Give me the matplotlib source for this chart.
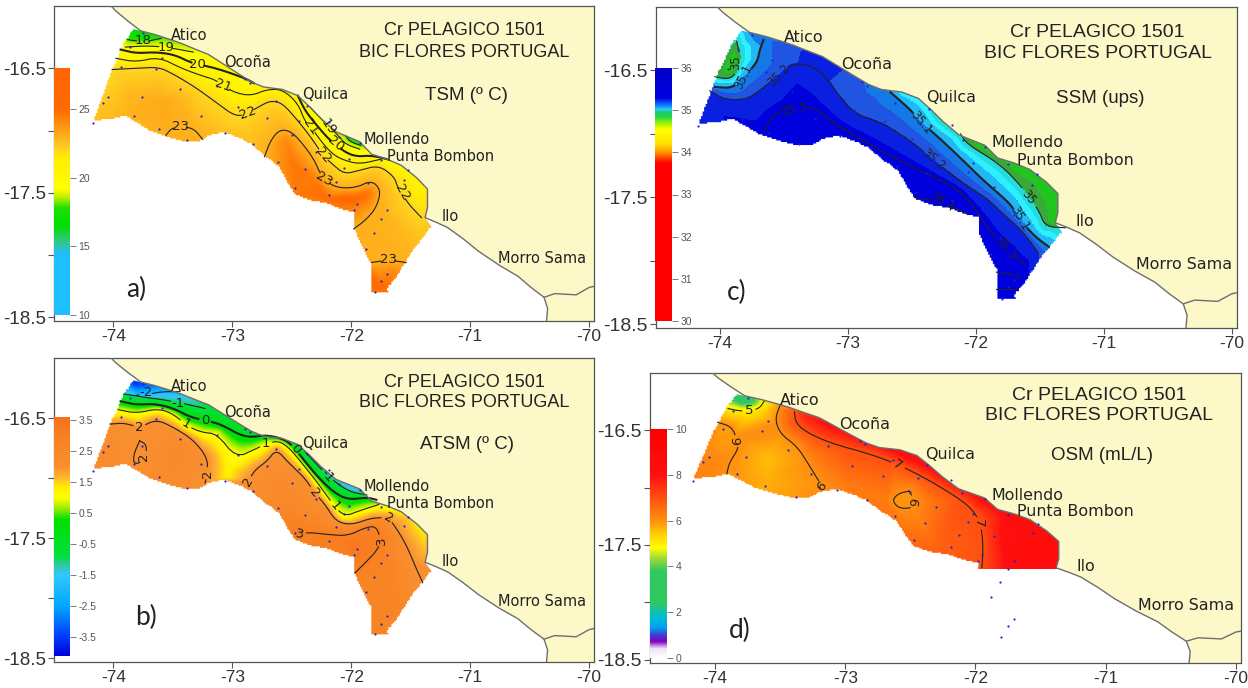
import numpy as np
import matplotlib
matplotlib.use("Agg")
import matplotlib.pyplot as plt
import matplotlib.tri as mtri
from matplotlib.colors import LinearSegmentedColormap, ListedColormap, BoundaryNorm, Normalize
from matplotlib.patches import Polygon

# coast, north to south
coast = [(-74.03, -15.99), (-73.98, -16.04), (-73.88, -16.12), (-73.77, -16.20), (-73.65, -16.23),
         (-73.52, -16.27), (-73.43, -16.30), (-73.33, -16.34), (-73.20, -16.39), (-73.07, -16.47),
         (-72.94, -16.55), (-72.84, -16.61), (-72.74, -16.65), (-72.58, -16.67), (-72.45, -16.72),
         (-72.35, -16.81), (-72.26, -16.90), (-72.13, -17.01), (-72.03, -17.05), (-71.93, -17.09),
         (-71.83, -17.19), (-71.70, -17.23), (-71.58, -17.28), (-71.45, -17.38), (-71.36, -17.47),
         (-71.36, -17.62), (-71.38, -17.70), (-71.28, -17.74), (-71.19, -17.78), (-71.06, -17.87),
         (-70.93, -17.97), (-70.76, -18.08), (-70.60, -18.17), (-70.49, -18.26), (-70.38, -18.34),
         (-70.35, -18.43), (-70.36, -18.54)]
border = [(-70.38, -18.34), (-70.29, -18.31), (-70.11, -18.32), (-70.00, -18.26), (-69.95, -18.25)]

# offshore limit of the survey, north to south
offshore = [(-73.83, -16.19), (-73.91, -16.30), (-73.96, -16.41), (-74.01, -16.51), (-74.04, -16.59),
            (-74.09, -16.73), (-74.16, -16.92), (-73.98, -16.90), (-73.91, -16.88), (-73.82, -16.93),
            (-73.72, -16.99), (-73.59, -17.04), (-73.49, -17.07), (-73.39, -17.09), (-73.28, -17.09),
            (-73.20, -17.04), (-73.08, -17.01), (-72.97, -17.05), (-72.84, -17.11), (-72.74, -17.20),
            (-72.61, -17.29), (-72.55, -17.40), (-72.48, -17.51), (-72.35, -17.56), (-72.19, -17.59),
            (-72.09, -17.63), (-71.98, -17.66)]
offshore_south = [(-71.98, -17.78), (-71.93, -17.89), (-71.88, -17.99), (-71.83, -18.08), (-71.83, -18.30),
                  (-71.69, -18.30), (-71.70, -18.26), (-71.61, -18.16), (-71.53, -18.02), (-71.43, -17.89),
                  (-71.33, -17.77)]
offshore_cut = [(-71.98, -17.71), (-71.37, -17.71)]

stations = [(-73.75, -16.22), (-73.86, -16.33), (-73.59, -16.42), (-73.94, -16.49), (-73.64, -16.51),
            (-73.44, -16.67), (-74.05, -16.73), (-74.09, -16.78), (-73.76, -16.73), (-73.83, -16.88),
            (-74.17, -16.94), (-73.62, -16.99), (-73.38, -17.08), (-73.26, -16.88), (-73.06, -17.02),
            (-72.83, -17.11), (-72.71, -16.90), (-72.95, -16.81), (-73.13, -16.64), (-72.85, -16.62),
            (-72.89, -16.59), (-72.63, -16.76), (-72.37, -16.80), (-72.44, -16.92), (-72.50, -17.04),
            (-72.62, -17.25), (-72.39, -17.31), (-72.30, -17.17), (-72.10, -17.05), (-72.19, -16.93),
            (-71.93, -17.10), (-72.02, -17.23), (-72.06, -17.30), (-72.13, -17.41), (-72.19, -17.52),
            (-72.47, -17.46), (-71.75, -17.24), (-71.86, -17.42), (-71.95, -17.59), (-71.98, -17.64),
            (-71.52, -17.32), (-71.56, -17.40), (-71.70, -17.64), (-71.75, -17.71), (-71.81, -17.82),
            (-71.88, -17.95), (-71.70, -18.15), (-71.75, -18.21), (-71.80, -18.30)]

places = [("Atico", -73.52, -16.24), ("Ocoña", -73.07, -16.45), ("Quilca", -72.41, -16.71),
          ("Mollendo", -71.90, -17.07), ("Punta Bombon", -71.70, -17.21), ("Ilo", -71.24, -17.69),
          ("Morro Sama", -70.77, -18.03)]

# TSM
tsm_iso = [
    (18, [(-73.88, -16.27), (-73.75, -16.29), (-73.60, -16.26)]),
    (19, [(-73.90, -16.33), (-73.72, -16.32), (-73.56, -16.33), (-73.33, -16.37)]),
    (20, [(-73.94, -16.35), (-73.81, -16.38), (-73.65, -16.37), (-73.49, -16.39), (-73.36, -16.45),
          (-73.29, -16.47), (-73.18, -16.49), (-73.04, -16.53), (-72.87, -16.59), (-72.82, -16.62)]),
    (19, [(-72.35, -16.81), (-72.26, -16.90), (-72.19, -16.97), (-72.11, -17.04), (-72.05, -17.11), (-71.93, -17.15)]),
    (18, [(-72.05, -17.04), (-72.01, -17.09), (-71.92, -17.12)]),
    (20, [(-72.45, -16.72), (-72.39, -16.84), (-72.29, -16.96), (-72.19, -17.07), (-72.13, -17.11),
          (-72.06, -17.17), (-71.96, -17.21), (-71.83, -17.20), (-71.70, -17.23)]),
    (21, [(-73.98, -16.42), (-73.81, -16.45), (-73.62, -16.41), (-73.43, -16.50), (-73.26, -16.56),
          (-73.15, -16.59), (-73.08, -16.64), (-72.97, -16.70), (-72.84, -16.72), (-72.71, -16.67),
          (-72.58, -16.67), (-72.45, -16.78), (-72.39, -16.93), (-72.34, -16.97), (-72.26, -17.08),
          (-72.16, -17.19), (-72.06, -17.24), (-71.93, -17.27), (-71.75, -17.23)]),
    (22, [(-74.01, -16.51), (-73.81, -16.50), (-73.62, -16.49), (-73.49, -16.55), (-73.30, -16.66),
          (-73.13, -16.78), (-72.97, -16.89), (-72.87, -16.86), (-72.78, -16.81), (-72.68, -16.76),
          (-72.58, -16.78), (-72.45, -16.92), (-72.32, -17.08), (-72.24, -17.20), (-72.16, -17.27),
          (-72.06, -17.35), (-71.93, -17.32), (-71.77, -17.28), (-71.64, -17.37), (-71.61, -17.46),
          (-71.57, -17.50), (-71.53, -17.58), (-71.41, -17.70)]),
    (23, [(-73.56, -17.04), (-73.51, -16.98), (-73.44, -16.97), (-73.33, -16.98), (-73.25, -17.07)]),
    (23, [(-72.73, -17.21), (-72.68, -17.08), (-72.60, -16.99), (-72.50, -17.01), (-72.39, -17.13),
          (-72.31, -17.24), (-72.27, -17.33), (-72.23, -17.39), (-72.13, -17.46), (-71.96, -17.46),
          (-71.83, -17.40), (-71.75, -17.48), (-71.79, -17.62), (-71.88, -17.72), (-71.98, -17.79)]),
    (23, [(-71.83, -18.06), (-71.69, -18.04), (-71.54, -18.06)]),
]
tsm_extra = [(-73.83, -16.19, 16.5), (-73.75, -16.22, 16.6), (-73.65, -16.24, 17.3), (-73.83, -16.24, 16.9),
             (-71.98, -17.08, 17.0), (-73.10, -16.43, 19.8),
             (-72.84, -16.60, 20.0), (-72.60, -16.67, 20.5), (-72.40, -16.78, 19.5), (-72.20, -16.95, 18.9),
             (-71.70, -17.22, 20.0), (-71.40, -17.45, 21.0), (-71.35, -17.75, 22.5), (-74.16, -16.92, 22.6),
             (-73.95, -16.88, 22.8), (-73.60, -16.76, 23.1), (-73.60, -16.85, 23.2), (-73.45, -16.75, 22.9),
             (-73.85, -16.70, 22.8), (-72.50, -17.25, 24.6), (-72.30, -17.40, 24.5), (-72.55, -17.10, 24.2),
             (-72.20, -17.55, 25.0), (-72.00, -17.55, 25.3), (-71.88, -17.52, 25.0), (-72.45, -17.50, 24.6),
             (-71.90, -17.90, 23.0), (-71.70, -17.70, 22.9), (-71.55, -17.85, 22.8), (-71.60, -17.45, 21.8),
             (-71.42, -17.50, 21.2), (-71.40, -17.80, 22.4), (-71.75, -18.25, 25.0), (-71.65, -18.15, 24.2)]
tsm_far = [22, 20, 23, 22.5]
tsm_labels = [("18", -73.75, -16.28, 0), ("19", -73.56, -16.33, 0), ("20", -73.29, -16.47, 0),
              ("21", -73.08, -16.64, -20), ("22", -72.87, -16.86, 20), ("23", -73.44, -16.97, 0),
              ("19", -72.19, -16.97, -55), ("21", -72.34, -16.97, -55), ("20", -72.13, -17.11, -40),
              ("22", -72.24, -17.20, -50), ("23", -72.23, -17.39, -30), ("22", -71.57, -17.50, -60),
              ("23", -71.69, -18.04, 0)]
tsm_stops = [(10, "#1fbfff"), (14.4, "#1fbfff"), (15.4, "#30c880"), (16.5, "#00e000"), (17.8, "#20e000"),
             (18.6, "#c0f000"), (19.2, "#ffff00"), (21.4, "#ffee00"), (22, "#ffd820"), (23, "#ffb01c"),
             (25, "#ff6a00"), (28, "#ff6600")]

# ATSM
atsm_iso = [
    (-2, [(-73.81, -16.31), (-73.70, -16.30), (-73.59, -16.28), (-73.44, -16.28)]),
    (-1, [(-73.91, -16.30), (-73.72, -16.33), (-73.56, -16.35), (-73.36, -16.39), (-73.23, -16.42)]),
    (0, [(-73.94, -16.36), (-73.81, -16.39), (-73.65, -16.38), (-73.49, -16.42), (-73.36, -16.49),
         (-73.23, -16.52), (-73.10, -16.55), (-72.94, -16.64), (-72.84, -16.66), (-72.71, -16.64),
         (-72.55, -16.68), (-72.47, -16.76), (-72.39, -16.86), (-72.29, -16.98), (-72.16, -17.11),
         (-72.03, -17.18), (-71.87, -17.16), (-71.79, -17.18)]),
    (-1, [(-72.39, -16.78), (-72.20, -16.98), (-72.03, -17.11), (-71.87, -17.14)]),
    (1, [(-73.96, -16.43), (-73.81, -16.46), (-73.62, -16.42), (-73.49, -16.47), (-73.39, -16.56),
         (-73.26, -16.62), (-73.13, -16.63), (-72.97, -16.83), (-72.81, -16.76), (-72.71, -16.71),
         (-72.61, -16.69), (-72.52, -16.75), (-72.42, -16.87), (-72.29, -17.03), (-72.16, -17.21),
         (-72.06, -17.32), (-71.93, -17.27), (-71.77, -17.22)]),
    (2, [(-74.03, -16.55), (-73.91, -16.54), (-73.78, -16.58), (-73.64, -16.51), (-73.49, -16.58),
         (-73.33, -16.68), (-73.21, -16.83), (-73.21, -16.96), (-73.23, -17.04)]),
    (2, [(-72.87, -17.03), (-72.81, -16.93), (-72.71, -16.86), (-72.63, -16.76), (-72.53, -16.87),
         (-72.39, -17.00), (-72.31, -17.12), (-72.22, -17.22), (-72.13, -17.36), (-72.00, -17.39),
         (-71.83, -17.33), (-71.69, -17.33), (-71.64, -17.39), (-71.54, -17.55), (-71.46, -17.74),
         (-71.40, -17.87)]),
    (2, [(-73.78, -16.69), (-73.83, -16.80), (-73.83, -16.89), (-73.73, -16.85), (-73.72, -16.72), (-73.78, -16.69)]),
    (3, [(-72.43, -17.47), (-72.37, -17.45), (-72.19, -17.47), (-72.03, -17.48), (-71.88, -17.41),
         (-71.79, -17.40), (-71.75, -17.52), (-71.79, -17.61), (-71.87, -17.69), (-71.97, -17.79)]),
]
atsm_extra = [(-73.82, -16.20, -3.9), (-73.75, -16.21, -3.4), (-73.60, -16.25, -2.4), (-73.40, -16.30, -1.6),
              (-73.20, -16.39, -0.8), (-72.90, -16.55, -0.5), (-72.60, -16.67, -0.3), (-72.35, -16.80, -1.3),
              (-72.20, -16.95, -1.6), (-72.00, -17.07, -1.7), (-71.85, -17.15, -1.2), (-71.75, -17.22, 0.9),
              (-71.60, -17.27, 1.3), (-73.05, -17.00, 1.3), (-73.03, -16.90, 1.2), (-71.42, -17.40, 1.3),
              (-71.50, -17.30, 1.4), (-71.38, -17.60, 1.6), (-71.35, -17.75, 2.0), (-71.90, -17.90, 2.7),
              (-71.75, -18.25, 2.7), (-71.60, -18.10, 2.6), (-71.70, -17.70, 2.7), (-72.00, -17.55, 3.3),
              (-72.50, -17.30, 2.6), (-72.60, -17.10, 2.4), (-73.50, -16.80, 2.4), (-74.10, -16.80, 2.3),
              (-73.50, -17.00, 2.3), (-74.16, -16.92, 2.2)]
atsm_far = [1, 0, 2.5, 2.5]
atsm_labels = [("-2", -73.73, -16.29, 0), ("-1", -73.46, -16.38, 0), ("0", -73.23, -16.52, 0),
               ("1", -73.39, -16.55, -30), ("2", -73.78, -16.58, 0), ("2", -73.75, -16.82, 90),
               ("2", -73.21, -16.96, 90), ("1", -72.72, -16.71, 0), ("0", -72.47, -16.76, -50),
               ("-1", -72.20, -16.98, -50), ("2", -72.31, -17.12, -50), ("1", -72.14, -17.23, -50),
               ("2", -72.87, -17.03, 60), ("2", -71.69, -17.33, -30), ("3", -72.43, -17.47, -10),
               ("3", -71.75, -17.52, 90)]
atsm_stops = [(-4.1, "#0000e0"), (-3.3, "#0050ff"), (-2.5, "#00a8ff"), (-1.5, "#30c8ff"), (-1.15, "#30c8a0"),
              (-0.9, "#00e040"), (0.3, "#00e000"), (0.7, "#aaee00"), (1.0, "#ffff00"), (1.35, "#ffee00"),
              (1.7, "#ffb030"), (2.0, "#f99030"), (3.0, "#f98020"), (3.6, "#f9701c")]

# SSM
ssm_iso = [
    (35, [(-74.04, -16.55), (-73.93, -16.57), (-73.87, -16.52), (-73.84, -16.40), (-73.87, -16.27)]),
    (35.1, [(-74.04, -16.63), (-73.90, -16.64), (-73.82, -16.55), (-73.71, -16.44), (-73.69, -16.34), (-73.66, -16.26)]),
    (35.2, [(-74.08, -16.66), (-73.96, -16.73), (-73.80, -16.73), (-73.69, -16.66), (-73.57, -16.56),
            (-73.44, -16.45), (-73.31, -16.45), (-73.18, -16.54), (-73.08, -16.69), (-72.95, -16.84),
            (-72.72, -16.92), (-72.49, -17.07), (-72.33, -17.21), (-72.10, -17.39), (-71.91, -17.51),
            (-71.79, -17.63), (-71.64, -17.76), (-71.51, -17.94)]),
    (35.3, [(-73.66, -16.99), (-73.60, -16.87), (-73.53, -16.82), (-73.29, -16.77), (-73.11, -16.92),
            (-72.92, -17.03), (-72.66, -17.18), (-72.33, -17.34), (-72.13, -17.44), (-72.00, -17.60),
            (-71.84, -17.84), (-71.61, -18.04)]),
    (35.4, [(-72.48, -17.50), (-72.26, -17.54), (-72.07, -17.63)]),
    (35.32, [(-71.84, -18.09), (-71.68, -18.11), (-71.66, -18.15)]),
    (35.34, [(-71.84, -18.22), (-71.68, -18.22)]),
    (35.1, [(-72.67, -16.67), (-72.51, -16.81), (-72.43, -16.91), (-72.31, -17.01), (-72.13, -17.18),
            (-71.94, -17.37), (-71.73, -17.55), (-71.66, -17.67), (-71.55, -17.80), (-71.43, -17.89)]),
    (35, [(-72.12, -17.00), (-72.07, -17.08), (-71.81, -17.24), (-71.64, -17.42), (-71.59, -17.50),
          (-71.51, -17.60), (-71.46, -17.73), (-71.30, -17.74)]),
]
ssm_extra = [(-73.93, -16.50, 34.9), (-73.90, -16.40, 34.9), (-73.83, -16.19, 35.05), (-73.75, -16.21, 35.12),
             (-73.60, -16.26, 35.15), (-73.45, -16.30, 35.16), (-73.30, -16.36, 35.23), (-73.10, -16.42, 35.23),
             (-72.95, -16.55, 35.17), (-72.80, -16.63, 35.13), (-72.60, -16.68, 35.05), (-72.40, -16.76, 35.03),
             (-72.27, -16.90, 35.0), (-72.10, -17.00, 35.0), (-71.95, -17.10, 34.9), (-71.70, -17.23, 34.9),
             (-71.45, -17.38, 34.9), (-71.37, -17.60, 34.9), (-71.38, -17.70, 34.9), (-71.33, -17.77, 35.0),
             (-74.16, -16.92, 35.25), (-74.00, -16.85, 35.27), (-73.70, -16.95, 35.29), (-73.40, -17.05, 35.33),
             (-73.40, -16.60, 35.27), (-72.50, -17.45, 35.4), (-72.10, -17.70, 35.35), (-71.80, -18.25, 35.32),
             (-71.60, -18.10, 35.28), (-71.45, -17.95, 35.15)]
ssm_far = [35.2, 35, 35.3, 35.2]
ssm_labels = [("35", -73.88, -16.44, 90), ("35.1", -73.82, -16.55, 65), ("35.2", -73.54, -16.54, 45),
              ("35.3", -73.42, -16.81, 15), ("35.1", -72.43, -16.91, -50), ("35.2", -72.33, -17.20, -40),
              ("35.4", -72.26, -17.54, -30), ("35.3", -71.77, -17.90, -50), ("35.1", -71.66, -17.67, -60),
              ("35", -71.59, -17.50, -50)]
ssm_stops = [(30, "#ff0000"), (33.75, "#ff0000"), (34.0, "#ff9000"), (34.2, "#ffe000"), (34.55, "#ffff00"),
             (34.7, "#a0f000"), (34.85, "#20d850"), (34.97, "#20c870"), (35.02, "#30d0f0"), (35.12, "#1080ff"),
             (35.3, "#0000e0"), (36, "#0000c8")]
ssm_levels = [30, 34.95, 35.0, 35.03, 35.06, 35.1, 35.15, 35.2, 35.27, 36]
ssm_bands = ["#22c41e", "#3aa83a", "#24dcdc", "#2cf0ff", "#22b8f5", "#1478e6", "#1f55e0", "#0a20e0", "#0000dc"]

# OSM
osm_iso = [
    (5, [(-73.90, -16.31), (-73.82, -16.33), (-73.74, -16.33), (-73.66, -16.31), (-73.62, -16.24)]),
    (6, [(-73.98, -16.43), (-73.87, -16.47), (-73.83, -16.59), (-73.82, -16.66), (-73.89, -16.78), (-73.91, -16.88)]),
    (6, [(-73.50, -16.28), (-73.54, -16.40), (-73.50, -16.53), (-73.37, -16.64), (-73.28, -16.80),
         (-73.21, -16.93), (-73.18, -16.99)]),
    (6, [(-72.51, -17.03), (-72.59, -17.05), (-72.64, -17.11), (-72.59, -17.18), (-72.49, -17.18), (-72.46, -17.12),
         (-72.51, -17.03)]),
    (7, [(-73.39, -16.34), (-73.38, -16.44), (-73.28, -16.53), (-73.09, -16.62), (-72.83, -16.70), (-72.61, -16.79),
         (-72.38, -16.92), (-72.16, -17.07), (-72.03, -17.18), (-71.96, -17.31), (-71.94, -17.50), (-71.95, -17.70)]),
]
osm_extra = [(-73.80, -16.20, 2.8), (-73.75, -16.22, 3.0), (-73.82, -16.24, 3.2), (-73.72, -16.25, 3.6),
             (-73.85, -16.27, 4.3), (-73.60, -16.24, 5.0),
             (-73.45, -16.27, 6.0), (-73.30, -16.37, 7.8), (-73.10, -16.45, 8.2), (-72.80, -16.60, 8.0),
             (-72.40, -16.78, 8.3), (-72.00, -17.05, 8.2), (-71.70, -17.23, 8.5), (-71.40, -17.40, 8.5),
             (-71.35, -17.70, 8.5), (-71.70, -17.70, 8.5), (-71.80, -17.40, 8.0), (-73.60, -16.75, 5.55),
             (-73.60, -16.95, 5.7), (-74.10, -16.80, 6.2), (-74.16, -16.92, 6.2), (-74.00, -16.90, 6.1),
             (-73.80, -16.93, 5.9), (-73.95, -16.50, 5.8), (-73.00, -17.00, 6.3), (-72.70, -17.10, 6.3),
             (-72.55, -17.40, 6.5), (-72.30, -17.55, 6.7), (-72.05, -17.63, 6.9), (-72.55, -17.11, 5.9)]
osm_far = [5.5, 8, 6, 8]
osm_labels = [("5", -73.74, -16.33, 0), ("6", -73.83, -16.59, 90), ("6", -73.18, -16.99, 45),
              ("7", -72.60, -16.80, -30), ("7", -71.98, -17.31, -90), ("6", -72.49, -17.12, -100)]
osm_stops = [(0, "#ffffff"), (0.4, "#f0e0f8"), (0.7, "#8000c0"), (1.0, "#4040d0"), (1.3, "#00a0f0"), (1.8, "#00c0d0"),
             (2.4, "#30c860"), (3.8, "#30c860"), (4.4, "#aadd30"), (4.8, "#ffff00"), (5.3, "#ffd800"), (6, "#ff9010"),
             (7, "#ff5010"), (8, "#ff1010"), (10, "#ff0000")]

W, H = 1248, 688
plt.rcParams['font.family'] = ['Liberation Sans', 'DejaVu Sans']
fig = plt.figure(figsize=(W/100, H/100), dpi=100)
fig.patch.set_facecolor("white")

LON = np.arange(-74.5, -70.995, 0.005)
LAT = np.arange(-18.6, -15.995, 0.005)
CORNERS = [(-74.6, -15.9), (-70.9, -15.9), (-74.6, -18.7), (-70.9, -18.7)]


def px_axes(l, t, r, b):
    return fig.add_axes([l/W, 1 - b/H, (r - l)/W, (b - t)/H])


def dense(pts, n=6):
    pts = np.array(pts, dtype=float)
    t = np.arange(len(pts))
    tt = np.linspace(0, len(pts) - 1, (len(pts) - 1)*n + 1)
    return np.interp(tt, t, pts[:, 0]), np.interp(tt, t, pts[:, 1])


def chaikin(pts, k=2):
    p = np.array(pts, dtype=float)
    for _ in range(k):
        q = 0.75*p[:-1] + 0.25*p[1:]
        r = 0.25*p[:-1] + 0.75*p[1:]
        m = np.empty((2*len(q), 2))
        m[0::2] = q
        m[1::2] = r
        p = np.vstack([p[:1], m, p[-1:]])
    return p


def stairs(pts, step=0.012):
    # the survey edge is blocky in the original
    x, y = dense(pts, 12)
    x = np.round(x/step)*step
    y = np.round(y/step)*step
    out = [(x[0], y[0])]
    for a, b in zip(x[1:], y[1:]):
        if (a, b) != out[-1]:
            out.append((a, out[-1][1]))
            out.append((a, b))
    return out


def field(iso, extra, far):
    seen = {}
    for v, pts in iso:
        x, y = dense(pts)
        for a, b in zip(x, y):
            seen[(round(a, 3), round(b, 3))] = v
    for a, b, v in extra:
        seen[(a, b)] = v
    for (a, b), v in zip(CORNERS, far):
        seen[(a, b)] = v
    xy = np.array(list(seen.keys()))
    tri = mtri.Triangulation(xy[:, 0], xy[:, 1])
    interp = mtri.LinearTriInterpolator(tri, np.array(list(seen.values())))
    gx, gy = np.meshgrid(LON, LAT)
    z = interp(gx, gy)
    z = np.ma.filled(z, np.ma.mean(z))
    # bit of smoothing so the triangles dont show
    for _ in range(3):
        for ax_i in (0, 1):
            z = (np.roll(z, 2, ax_i) + np.roll(z, 1, ax_i) + z + np.roll(z, -1, ax_i) + np.roll(z, -2, ax_i))/5
    return z


def panel(box, region, iso, extra, far, labels, name, letter, letter_pos, cmap, norm, thick,
          fs=9.5, cut=0.055, wide=False):
    ax = px_axes(*box)
    ax.set_xlim(-74.5, -69.96)
    ax.set_ylim(-18.53, -16.0)
    ax.set_facecolor("white")

    land = coast + [(-69.9, -18.54), (-69.9, -15.9), (-74.03, -15.9)]
    ax.add_patch(Polygon(land, closed=True, fc="#fcf8c8", ec="none", zorder=1))

    z = field(iso, extra, far)
    im = ax.imshow(z, origin="lower", extent=[LON[0], LON[-1], LAT[0], LAT[-1]], cmap=cmap, norm=norm,
                   aspect="auto", interpolation="bilinear" if letter != "c)" else "nearest", zorder=2)
    clip = Polygon(region, closed=True, transform=ax.transData, fc="none", ec="none")
    ax.add_patch(clip)
    im.set_clip_path(clip)
    ax.set_xlim(-74.5, -69.96)
    ax.set_ylim(-18.53, -16.0)

    for v, pts in iso:
        p = chaikin(pts)
        x, y = dense(p, 4)
        for t, lx, ly, rot in labels:
            if abs(float(t) - v) < 1e-6:
                far_off = np.hypot(x - lx, y - ly) > cut
                y = np.where(far_off, y, np.nan)
        ax.plot(x, y, color="#222222", lw=1.5 if v == thick else 0.8, zorder=3)
    for t, lx, ly, rot in labels:
        ax.text(lx, ly, t, fontsize=fs, rotation=rot, ha="center", va="center", color="#222222",
                family="DejaVu Sans", zorder=4)

    cx, cy = zip(*coast)
    ax.plot(cx, cy, color="#6e6e6e", lw=1.0, zorder=3)
    bx, by = zip(*border)
    ax.plot(bx, by, color="#6e6e6e", lw=1.0, zorder=3)

    sx, sy = zip(*stations)
    ax.scatter(sx, sy, s=2.5, color="#2020d8", lw=0, zorder=5)

    # c and d are stretched a bit wider in the original
    title_fs, place_fs, dx = (14, 11.4, 0.02) if wide else (13, 10.5, 0.0)
    ax.text(-71.05, -16.20, "Cr PELAGICO 1501", fontsize=title_fs, ha="center", va="center", color="#222222", zorder=6)
    ax.text(-71.05, -16.37, "BIC FLORES PORTUGAL", fontsize=title_fs, ha="center", va="center", color="#222222", zorder=6)
    ax.text(-71.03, -16.72, name, fontsize=13.5, ha="center", va="center", color="#222222", zorder=6)
    for t, lx, ly in places:
        ax.text(lx + dx, ly, t, fontsize=place_fs, ha="left", va="center", family="DejaVu Sans",
                color="#222222", zorder=6)
    ax.text(letter_pos[0], letter_pos[1], letter, fontsize=19, ha="center", va="center", family="Lato",
            color="#222222", zorder=6)

    ax.set_xticks([-74, -73, -72, -71, -70])
    ax.set_xticklabels(["-74", "-73", "-72", "-71", "-70"], fontsize=12.5, color="#333333")
    ax.set_yticks([-16.5, -17.5, -18.5])
    ax.set_yticklabels(["-16.5", "-17.5", "-18.5"], fontsize=14 if wide else 13.5, color="#333333")
    ax.set_yticks([-17, -18], minor=True)
    ax.tick_params(axis="both", which="both", length=4, width=0.8, color="#555555", pad=2)
    for s in ax.spines.values():
        s.set_color("#555555")
        s.set_linewidth(0.9)
    return ax


def colorbar(box, cmap, norm, vmin, vmax, ticks, ticklabels):
    cax = px_axes(*box)
    cax.imshow(np.linspace(vmin, vmax, 400)[:, None], origin="lower", extent=[0, 1, vmin, vmax],
               cmap=cmap, norm=norm, aspect="auto", interpolation="bilinear")
    cax.set_xticks([])
    cax.yaxis.tick_right()
    cax.set_yticks(ticks)
    cax.set_yticklabels(ticklabels, fontsize=7.5, color="#555555")
    cax.tick_params(axis="y", length=4, width=0.6, color="#666666", pad=2)
    for s in cax.spines.values():
        s.set_visible(False)
    cax.set_zorder(10)
    cax.patch.set_alpha(0)


def make_cmap(stops):
    lo, hi = stops[0][0], stops[-1][0]
    return LinearSegmentedColormap.from_list("c", [((v - lo)/(hi - lo), c) for v, c in stops], N=512), Normalize(lo, hi)


full_region = stairs(offshore + offshore_south) + coast[26:2:-1]
cut_region = stairs(offshore) + offshore_cut + coast[26:2:-1]

cm_a, nm_a = make_cmap(tsm_stops)
cm_b, nm_b = make_cmap(atsm_stops)
cm_c, nm_c = make_cmap(ssm_stops)
cm_d, nm_d = make_cmap(osm_stops)
band_cm = ListedColormap(ssm_bands)
band_nm = BoundaryNorm(ssm_levels, len(ssm_bands))

panel((54, 6, 594, 321), full_region, tsm_iso, tsm_extra, tsm_far, tsm_labels, "TSM (º C)", "a)",
      (-73.81, -18.28), cm_a, nm_a, 20)
panel((54, 358, 594, 662), full_region, atsm_iso, atsm_extra, atsm_far, atsm_labels, "ATSM (º C)", "b)",
      (-73.73, -18.16), cm_b, nm_b, 0)
panel((656, 7, 1237, 328), full_region, ssm_iso, ssm_extra, ssm_far, ssm_labels, "SSM (ups)", "c)",
      (-73.87, -18.25), band_cm, band_nm, 35.1, fs=8.5, cut=0.09, wide=True)
panel((650, 373, 1241, 663), cut_region, osm_iso, osm_extra, osm_far, osm_labels, "OSM (mL/L)", "d)",
      (-73.81, -18.25), cm_d, nm_d, None, wide=True)

colorbar((54, 68, 70, 315), cm_a, nm_a, 10, 28, [10, 15, 20, 25], ["10", "15", "20", "25"])
colorbar((54, 417, 70, 656), cm_b, nm_b, -4.1, 3.6, [-3.5, -2.5, -1.5, -0.5, 0.5, 1.5, 2.5, 3.5],
         ["-3.5", "-2.5", "-1.5", "-0.5", "0.5", "1.5", "2.5", "3.5"])
colorbar((655, 68, 672, 321), cm_c, nm_c, 30, 36, [30, 31, 32, 33, 34, 35, 36], ["30", "31", "32", "33", "34", "35", "36"])
colorbar((650, 429, 667, 658), cm_d, nm_d, 0, 10, [0, 2, 4, 6, 8, 10], ["0", "2", "4", "6", "8", "10"])

fig.savefig("out.png", dpi=100)
